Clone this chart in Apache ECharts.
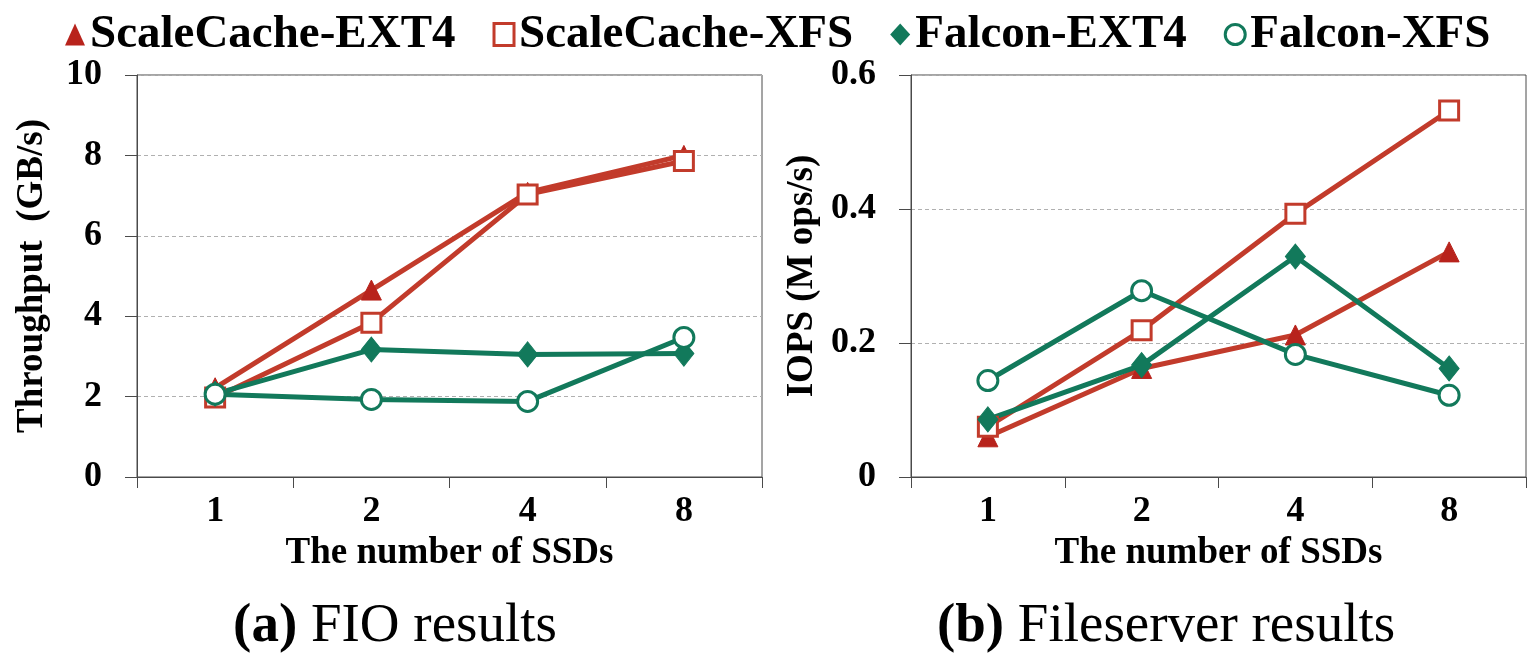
<!DOCTYPE html>
<html>
<head>
<meta charset="utf-8">
<script src="https://cdn.jsdelivr.net/npm/echarts@6/dist/echarts.min.js"></script>
<style>
  html, body { margin: 0; padding: 0; background: #fff; }
  #chart { width: 1527px; height: 656px; }
</style>
</head>
<body>
<div id="chart"></div>
<script>
// Categories: number of SSDs
const ssdCounts = ['1', '2', '4', '8'];

// (a) FIO throughput, GB/s
const fioScaleCacheExt4 = [2.22, 4.65, 7.08, 8.0];
const fioScaleCacheXfs  = [1.98, 3.84, 7.03, 7.86];
const fioFalconExt4     = [2.07, 3.17, 3.05, 3.07];
const fioFalconXfs      = [2.06, 1.93, 1.88, 3.47];

// (b) Fileserver IOPS, M ops/s
const fsScaleCacheExt4 = [0.060, 0.162, 0.212, 0.336];
const fsScaleCacheXfs  = [0.075, 0.219, 0.393, 0.547];
const fsFalconExt4     = [0.086, 0.167, 0.329, 0.162];
const fsFalconXfs      = [0.144, 0.278, 0.183, 0.122];

// Axis tick settings
const fioTicks = { min: 0, max: 10, interval: 2 };
const fsTicks  = { min: 0, max: 0.6, interval: 0.2 };

const RED = '#c23b2b';
const RED_DARK = '#b8231c';
const GREEN = '#12795b';
const AXIS = '#4a4a4a';
const SERIF = '"Liberation Serif", "Times New Roman", serif';

const chart = echarts.init(document.getElementById('chart'), null, { renderer: 'canvas' });

function xAxisCfg(gridIndex) {
  return {
    type: 'category', gridIndex, data: ssdCounts, boundaryGap: true,
    name: 'The number of SSDs', nameLocation: 'middle', nameGap: 55,
    nameTextStyle: { fontFamily: SERIF, fontWeight: 'bold', fontSize: 37, color: '#000' },
    axisLine: { lineStyle: { color: AXIS, width: 1 } },
    axisTick: { show: true, length: 11, inside: false, alignWithLabel: false, lineStyle: { color: AXIS } },
    axisLabel: { margin: 17, fontFamily: SERIF, fontWeight: 'bold', fontSize: 36, color: '#000' },
    splitLine: { show: false }
  };
}

function yAxisCfg(gridIndex, ticks, name, gap, fmt) {
  return {
    type: 'value', gridIndex, min: ticks.min, max: ticks.max, interval: ticks.interval,
    name, nameLocation: 'middle', nameGap: gap, nameRotate: 90,
    nameTextStyle: { fontFamily: SERIF, fontWeight: 'bold', fontSize: 37, color: '#000' },
    axisLine: { show: true, lineStyle: { color: AXIS, width: 1 } },
    axisTick: { show: true, length: 12, inside: false, lineStyle: { color: AXIS } },
    axisLabel: { margin: 35, fontFamily: SERIF, fontWeight: 'bold', fontSize: 36, color: '#000', formatter: fmt },
    splitLine: { show: true, lineStyle: { color: '#b0b0b0', type: [4, 3], width: 1 } }
  };
}

function makeSeries(name, data, gi, kind) {
  const base = {
    name, type: 'line', data, xAxisIndex: gi, yAxisIndex: gi,
    lineStyle: { width: 5 }, showSymbol: true, animation: false, z: 2
  };
  if (kind === 'sc-ext4') {
    return Object.assign(base, {
      symbol: 'triangle', symbolSize: 20,
      lineStyle: { width: 5, color: RED },
      itemStyle: { color: RED_DARK, borderColor: RED_DARK, borderWidth: 1 }
    });
  }
  if (kind === 'sc-xfs') {
    return Object.assign(base, {
      symbol: 'rect', symbolSize: 19,
      lineStyle: { width: 5, color: RED },
      itemStyle: { color: '#fff', borderColor: RED, borderWidth: 3 }
    });
  }
  if (kind === 'f-ext4') {
    return Object.assign(base, {
      symbol: 'diamond', symbolSize: [20, 25],
      lineStyle: { width: 5, color: GREEN },
      itemStyle: { color: GREEN, borderColor: GREEN, borderWidth: 1 }
    });
  }
  return Object.assign(base, {
    symbol: 'circle', symbolSize: 20,
    lineStyle: { width: 5, color: GREEN },
    itemStyle: { color: '#fff', borderColor: GREEN, borderWidth: 3 }
  });
}

const option = {
  backgroundColor: '#fff',
  animation: false,
  legend: {
    left: 60, top: 6, itemGap: 37, itemWidth: 20, itemHeight: 22,
    textStyle: { fontFamily: SERIF, fontWeight: 'bold', fontSize: 47, color: '#000' },
    data: [
      { name: 'ScaleCache-EXT4', icon: 'triangle', itemStyle: { color: RED_DARK, borderWidth: 0 } },
      { name: 'ScaleCache-XFS', icon: 'rect', itemStyle: { color: '#fff', borderColor: RED, borderWidth: 3 } },
      { name: 'Falcon-EXT4', icon: 'diamond', itemStyle: { color: GREEN, borderWidth: 0 } },
      { name: 'Falcon-XFS', icon: 'circle', itemStyle: { color: '#fff', borderColor: GREEN, borderWidth: 3 } }
    ]
  },
  title: [
    {
      text: '{b|(a)} FIO results', left: 390, top: 594, textAlign: 'center',
      textStyle: { fontFamily: SERIF, fontWeight: 'normal', fontSize: 55, color: '#000',
        rich: { b: { fontFamily: SERIF, fontWeight: 'bold', fontSize: 55, color: '#000' } } }
    },
    {
      text: '{b|(b)} Fileserver results', left: 1161, top: 594, textAlign: 'center',
      textStyle: { fontFamily: SERIF, fontWeight: 'normal', fontSize: 55, color: '#000',
        rich: { b: { fontFamily: SERIF, fontWeight: 'bold', fontSize: 55, color: '#000' } } }
    }
  ],
  grid: [
    { left: 137, top: 75, width: 625, height: 402, show: true, borderColor: AXIS, borderWidth: 1, backgroundColor: 'transparent' },
    { left: 911, top: 75, width: 615, height: 402, show: true, borderColor: AXIS, borderWidth: 1, backgroundColor: 'transparent' }
  ],
  xAxis: [xAxisCfg(0), xAxisCfg(1)],
  yAxis: [
    yAxisCfg(0, fioTicks, 'Throughput  (GB/s)', 86, v => String(v)),
    yAxisCfg(1, fsTicks, 'IOPS (M ops/s)', 90, v => (v === 0 ? '0' : v.toFixed(1)))
  ],
  series: [
    makeSeries('ScaleCache-EXT4', fioScaleCacheExt4, 0, 'sc-ext4'),
    makeSeries('ScaleCache-XFS', fioScaleCacheXfs, 0, 'sc-xfs'),
    makeSeries('Falcon-EXT4', fioFalconExt4, 0, 'f-ext4'),
    makeSeries('Falcon-XFS', fioFalconXfs, 0, 'f-xfs'),
    makeSeries('ScaleCache-EXT4', fsScaleCacheExt4, 1, 'sc-ext4'),
    makeSeries('ScaleCache-XFS', fsScaleCacheXfs, 1, 'sc-xfs'),
    makeSeries('Falcon-EXT4', fsFalconExt4, 1, 'f-ext4'),
    makeSeries('Falcon-XFS', fsFalconXfs, 1, 'f-xfs')
  ]
};

chart.setOption(option);
</script>
</body>
</html>
